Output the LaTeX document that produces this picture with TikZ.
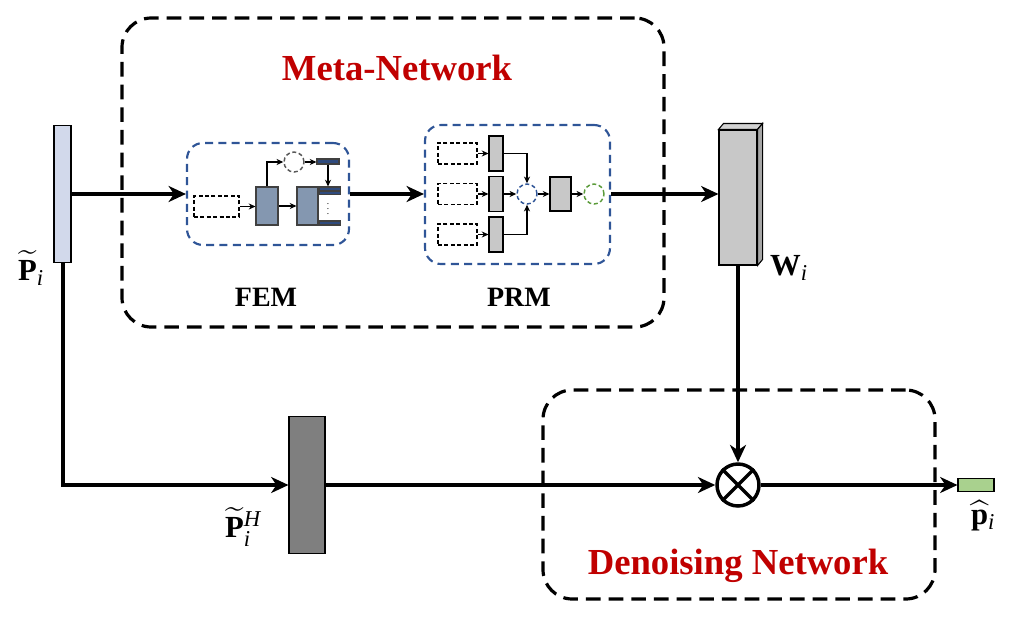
\documentclass[tikz,border=0pt]{standalone}
\usepackage{fix-cm}
\usepackage{amsmath}
\usepackage{fontspec}
\setmainfont{Liberation Serif}
\usetikzlibrary{arrows.meta,calc}
\definecolor{redt}{HTML}{C00000}
\definecolor{dblue}{HTML}{2F5597}
\definecolor{barblue}{HTML}{2E4A7D}
\definecolor{femfill}{HTML}{8497B0}
\definecolor{lgray}{HTML}{C8C8C8}
\definecolor{dgray}{HTML}{7F7F7F}
\definecolor{pfill}{HTML}{D2D9EB}
\definecolor{gfill}{HTML}{A9D18E}
\definecolor{gdash}{HTML}{5B9B3A}
\definecolor{cgray}{HTML}{595959}
\newcommand{\sbx}[1]{\mbox{\fontsize{17}{17}\selectfont$\mathit{#1}$}}
\tikzset{
  bigbox/.style={draw=black, line width=2.4pt, dash pattern=on 11pt off 6pt, rounded corners=22pt, inner sep=0pt},
  modbox/.style={draw=dblue, line width=1.6pt, dash pattern=on 6pt off 4pt, rounded corners=12pt, inner sep=0pt},
  blk/.style={draw=black, line width=0.8pt, inner sep=0pt},
  dbox/.style={draw=black, line width=1.3pt, dash pattern=on 3pt off 1.8pt, inner sep=0pt, minimum height=15.75pt},
  dcirc/.style={circle, line width=1.1pt, dash pattern=on 3pt off 2pt, minimum size=15pt, inner sep=0pt},
  marrow/.style={line width=3pt, -{Stealth[length=13pt,width=12pt,inset=4pt]}},
  sarrow/.style={line width=0.9pt, -{Stealth[length=5pt,width=4.5pt,inset=1.5pt]}},
  redtitle/.style={text=redt, font=\fontsize{27.5}{30}\selectfont\bfseries, inner sep=0pt},
  subt/.style={font=\fontsize{21}{24}\selectfont\bfseries, inner sep=0pt},
  mlab/.style={inner sep=0pt, font=\fontsize{23}{25}\selectfont},
}
\begin{document}
\begin{tikzpicture}[x=0.75pt,y=-0.75pt]
\useasboundingbox (0,0) rectangle (1028,618);

% big dashed boxes
\node[bigbox, minimum width=406.5pt, minimum height=231.75pt] (meta) at (393,172.5) {};
\node[bigbox, minimum width=294pt, minimum height=156.75pt] (den) at (739,494.5) {};
\node[redtitle] (mt) at (397,68) {Meta-Network};
\node[redtitle] (dt) at (738,566) {Denoising Network};

% module boxes
\node[modbox, minimum width=121.5pt, minimum height=76.5pt] (fem) at (268,194) {};
\node[modbox, minimum width=138.75pt, minimum height=104.25pt] (prm) at (517.5,194.5) {};
\node[subt] (femt) at (266,297) {FEM};
\node[subt] (prmt) at (519,297) {PRM};

% input vector
\node[blk, fill=pfill, minimum width=12.75pt, minimum height=102.75pt] (pv) at (62.5,194) {};
\node[mlab] (pvl) at (31,268) {$\widetilde{\mathbf{P}}_{\sbx{i}}$};

% W block (3D)
\node[blk, fill=lgray, minimum width=28.5pt, minimum height=101.25pt] (w) at (738,197.5) {};
\filldraw[fill=gray!35, draw=black, line width=0.8pt] (w.north west) -- ++(5,-6) -- ($(w.north east)+(5,-6)$) -- (w.north east) -- cycle;
\filldraw[fill=gray!70, draw=black, line width=0.8pt] (w.north east) -- ++(5,-6) -- ($(w.south east)+(5,-6)$) -- (w.south east) -- cycle;
\node[mlab] (wl) at (789,268) {$\mathbf{W}_{\sbx{i}}$};

% dark block
\node[blk, fill=dgray, minimum width=27pt, minimum height=102.75pt] (dk) at (307,485) {};
\node[mlab] (dkl) at (243,527) {$\widetilde{\mathbf{P}}^{\sbx{H}}_{\sbx{i}}$};

% otimes
\node[circle, draw=black, line width=2.6pt, minimum size=31.5pt, inner sep=0pt] (ot) at (738,485) {};
\draw[line width=2.6pt] (ot.north west) -- (ot.south east);
\draw[line width=2.6pt] (ot.north east) -- (ot.south west);

% output
\node[blk, fill=gfill, minimum width=27pt, minimum height=9.75pt] (gr) at (976,485) {};
\node[mlab] (grl) at (983,516) {$\widehat{\mathbf{p}}_{\sbx{i}}$};

% main connectors
\draw[marrow] (pv.east |- fem.west) -- (fem.west);
\draw[marrow] (fem.east) -- (prm.west |- fem.east);
\draw[marrow] (prm.east |- fem.east) -- (w.west |- fem.east);
\draw[marrow] (pv.south) |- (dk.west);
\draw[marrow] (dk.east) -- (ot.west);
\draw[marrow] (w.south) -- (ot.north);
\draw[marrow] (ot.east) -- (gr.west);

% ---- FEM internals
\node[dbox, minimum width=33.75pt] (fd) at (216.5,206.5) {};
\node[blk, draw=black!75, fill=femfill, minimum width=16.5pt, minimum height=28.5pt] (f1) at (267,206) {};
\node[blk, draw=black!75, fill=femfill, minimum width=15.75pt, minimum height=28.5pt] (f2) at (307.5,206) {};
\node[blk, draw=black!75, fill=barblue, minimum width=15.75pt, minimum height=2.6pt, anchor=north west] (tb1) at (f2.north east) {};
\node[blk, draw=black!75, fill=barblue, minimum width=15.75pt, minimum height=2.6pt, anchor=north west] (tb2) at ($(f2.north east)+(0,4)$) {};
\node[blk, draw=black!75, fill=barblue, minimum width=15.75pt, minimum height=3pt, anchor=south west] (bb) at (f2.south east) {};
\node[inner sep=0pt, font=\fontsize{7}{7}\selectfont] (dots) at (328,205) {$\vdots$};
\node[dcirc, draw=cgray] (c1) at (294,162) {};
\node[blk, draw=black!75, fill=barblue, minimum width=16.5pt, minimum height=3.75pt] (sb) at (328,161.5) {};
\draw[sarrow] (fd.east) -- (f1.west |- fd.east);
\draw[sarrow] (f1.east) -- (f2.west);
\draw[sarrow] (f1.north) |- (c1.west);
\draw[sarrow] (c1.east) -- (sb.west |- c1.east);
\draw[sarrow] (sb.south) -- (tb1.north -| sb.south);

% ---- PRM internals
\node[dbox, minimum width=29.25pt] (pd1) at (457.5,153.5) {};
\node[dbox, minimum width=29.25pt] (pd2) at (457.5,194) {};
\node[dbox, minimum width=29.25pt] (pd3) at (457.5,234.5) {};
\node[blk, fill=lgray, minimum width=10.5pt, minimum height=26.25pt] (pb1) at (496,153.5) {};
\node[blk, fill=lgray, minimum width=10.5pt, minimum height=26.25pt] (pb2) at (496,194) {};
\node[blk, fill=lgray, minimum width=10.5pt, minimum height=26.25pt] (pb3) at (496,234.5) {};
\node[dcirc, draw=dblue] (c2) at (527,194) {};
\node[blk, fill=lgray, minimum width=15.75pt, minimum height=25.5pt] (pm) at (560.5,194) {};
\node[dcirc, draw=gdash] (c3) at (594,194) {};
\draw[sarrow] (pd1.east) -- (pb1.west);
\draw[sarrow] (pd2.east) -- (pb2.west);
\draw[sarrow] (pd3.east) -- (pb3.west);
\draw[sarrow] (pb1.east) -| (c2.north);
\draw[sarrow] (pb2.east) -- (c2.west);
\draw[sarrow] (pb3.east) -| (c2.south);
\draw[sarrow] (c2.east) -- (pm.west);
\draw[sarrow] (pm.east) -- (c3.west);
\end{tikzpicture}
\end{document}
